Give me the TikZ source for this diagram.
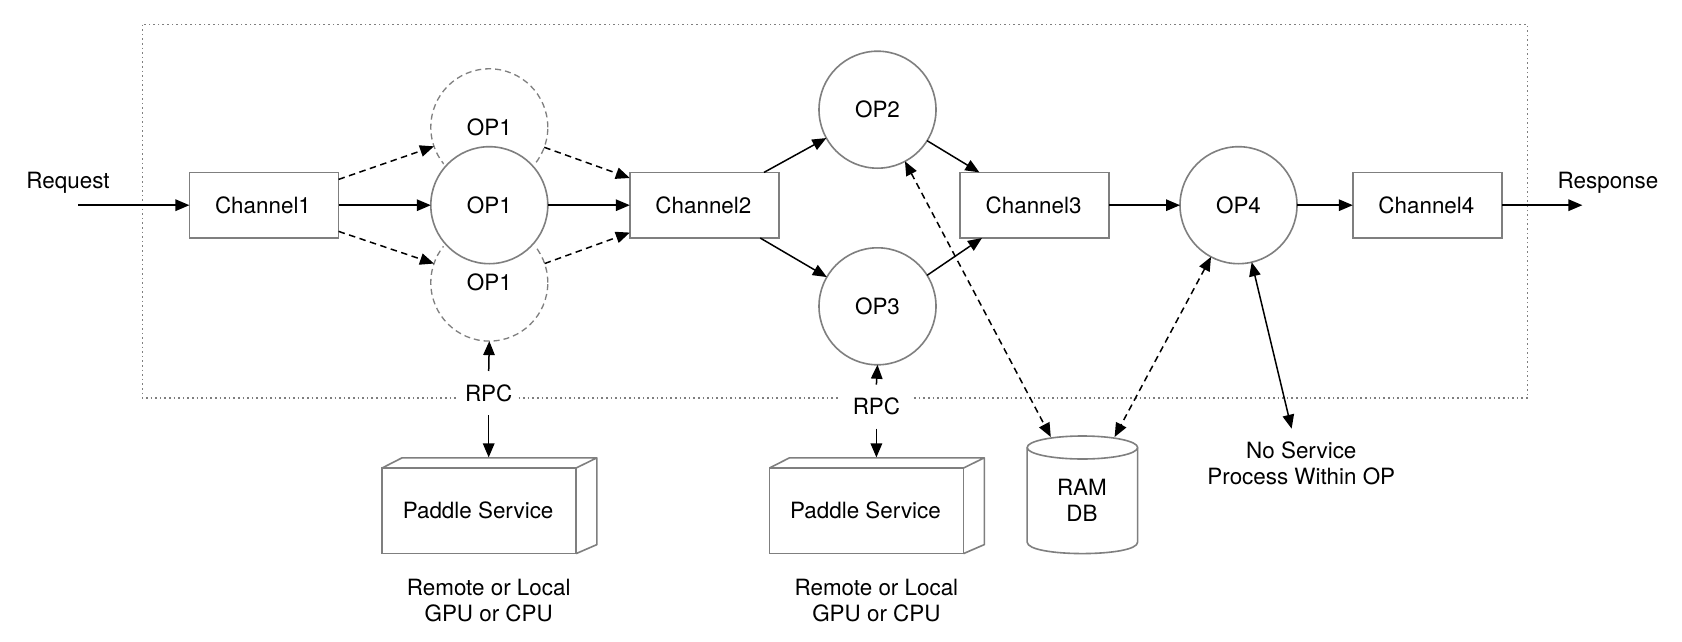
\documentclass[tikz,border=0pt]{standalone}
\usepackage{fontspec}
\setmainfont{TeX Gyre Heros}
\usetikzlibrary{arrows.meta,shapes.geometric,calc}
\definecolor{edgegray}{HTML}{7F7F7F}
\newcommand{\nudged}[1]{\raisebox{1pt}{\kern-2pt #1}}
\tikzset{
  base/.style={inner sep=0pt,outer sep=0pt,font=\fontsize{22.4}{26}\selectfont,align=center,text=black},
  chan/.style={base,draw=edgegray,line width=1.6pt,fill=white,minimum width=149.2pt,minimum height=65.6pt},
  opnode/.style={base,circle,draw=edgegray,line width=1.6pt,fill=white,minimum size=117pt},
  opghost/.style={base,circle,draw=edgegray,line width=1.3pt,dash pattern=on 6pt off 4pt,minimum size=117pt},
  opmain/.style={opnode,preaction={draw=white,line width=6pt}},
  cube/.style={base,draw=edgegray,line width=1.6pt,minimum width=194pt,minimum height=85.6pt},
  lbl/.style={base},
  rpc/.style={base,fill=white,inner xsep=6pt,minimum height=44pt},
  tipped/.style={draw=black,line width=1.5pt},
  conn/.style={tipped,-{Triangle[length=14pt,width=11.5pt]}},
  dconn/.style={conn,dash pattern=on 6.5pt off 4.5pt},
  twoway/.style={tipped,{Triangle[length=14pt,width=11.5pt]}-{Triangle[length=14pt,width=11.5pt]}},
  dtwoway/.style={twoway,dash pattern=on 6.5pt off 4.5pt},
  frame/.style={draw=edgegray,line width=1.3pt,dash pattern=on 1.6pt off 3pt},
  shell/.style={draw=edgegray,line width=1.6pt,line join=round}
}
\begin{document}
\begin{tikzpicture}[x=1pt,y=-1pt]
\useasboundingbox (0,0) rectangle (1682,642);
\fill[white] (0,0) rectangle (1682,642);
\coordinate (frameA) at (142.2,24.6);
\coordinate (frameB) at (1527.7,398);
\draw[frame] (frameA) rectangle (frameB);

\node[chan] (ch1) at (264,205.2) {\nudged{Channel1}};
\node[chan] (ch2) at (704.4,205.2) {\nudged{Channel2}};
\node[chan] (ch3) at (1034.6,205.2) {\nudged{Channel3}};
\node[chan] (ch4) at (1427.4,205.2) {\nudged{Channel4}};

\node[opghost] (op1t) at (489.3,127.3) {OP1};
\node[opghost] (op1b) at (489.3,282.6) {OP1};
\node[opmain] (op1) at (489.3,205.2) {OP1};
\node[opnode] (op2) at (877.5,109.7) {OP2};
\node[opnode] (op3) at (877.5,306.3) {OP3};
\node[opnode] (op4) at (1238.5,205.2) {OP4};

\node[rpc] (rpc1) at (488.7,393) {RPC};
\node[rpc,inner xsep=13pt] (rpc2) at (876.4,406.6) {RPC};

\node[cube] (pad1) at (479.1,510.8) {\nudged{Paddle Service}};
\node[cube] (pad2) at (866.5,510.8) {\nudged{Paddle Service}};
\foreach \n in {pad1,pad2}{
  \draw[shell]
    (\n.north west) -- ++(20,-10.2) -- ($(\n.north east)+(20.8,-10.2)$) -- ($(\n.south east)+(20.8,-9)$) -- (\n.south east)
    (\n.north east) -- ++(20.8,-10.2);
}
\node[lbl] (rem1) at (488.7,600.7) {Remote or Local\\GPU or CPU};
\node[lbl] (rem2) at (876.4,600.7) {Remote or Local\\GPU or CPU};

\node[base,minimum width=110.5pt,minimum height=117.6pt,align=center] (ram) at (1082.4,494.8) {};
\draw[shell] (ram.north west) ++(0,11.5) coordinate (ramTL) -- ++(0,94.6) coordinate (ramBL)
  .. controls ($(ramBL)+(0,15.3)$) and ($(ramBL)+(110.5,15.3)$) .. ($(ramBL)+(110.5,0)$)
  -- ($(ramTL)+(110.5,0)$);
\draw[shell] ($(ramTL)+(55.25,0)$) ellipse [x radius=55.25, y radius=11.5];
\node[lbl] (ramtxt) at (1081.9,500) {RAM\\DB};
\node[lbl] (nosvc) at (1301.3,463.5) {No Service\\Process Within OP};
\node[lbl] (req) at (68,182.5) {Request};
\node[lbl] (resp) at (1608,182.5) {Response};

\coordinate (reqS) at (78.3,205.2);
\coordinate (respE) at (1582.4,205.2);
\coordinate (nosvcT) at (1291.6,428.7);

\draw[conn] (reqS) -- (ch1.west);
\draw[conn] (ch1.east) -- (op1.west);
\draw[conn] (op1.east) -- (ch2.west);
\draw[conn] (ch3.east) -- (op4.west);
\draw[conn] (op4.east) -- (ch4.west);
\draw[conn] (ch4.east) -- (respE);

\draw[dconn] ([yshift=6.6]ch1.south east) -- (op1b.161);
\draw[dconn] ([yshift=-7]ch1.north east) -- (op1t.199.6);
\draw[dconn] (op1t.-20.7) -- ([yshift=-5.6]ch2.north west);
\draw[dconn] (op1b.19.6) -- ([yshift=5.4]ch2.south west);

\draw[conn] ([xshift=-15]ch2.north east) -- (op2.209.3);
\draw[conn] ([xshift=-18.8]ch2.south east) -- (op3.150.3);
\draw[conn] (op2.-32) -- ([xshift=19.4]ch3.north west);
\draw[conn] (op3.32.9) -- ([xshift=22]ch3.south west);

\draw[conn] (rpc1.north) -- (op1b.south);
\draw[conn] (rpc1.south) -- ($(rpc1.south |- pad1.north)+(0,-10.6)$);
\draw[conn] (rpc2.north) -- (op3.south);
\draw[conn] (rpc2.south) -- ($(rpc2.south |- pad2.north)+(0,-10.6)$);

\draw[dtwoway] (op2.-62.3) -- ([shift={(-31.6,-57.8)}]ram.center);
\draw[dtwoway] (op4.242.5) -- ([shift={(32.2,-57.8)}]ram.center);
\draw[twoway] (op4.-77) -- (nosvcT);
\end{tikzpicture}
\end{document}
